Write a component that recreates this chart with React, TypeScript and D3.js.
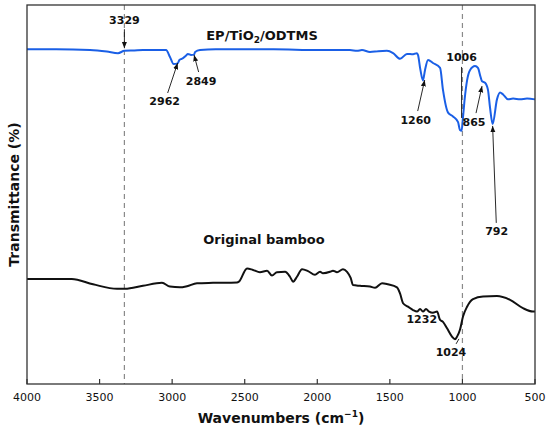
import * as d3 from 'd3';

// EP/TiO2/ODTMS spectrum (wavenumber, transmittance a.u.)
const coatedWn = [4000, 3800, 3566, 3450, 3373, 3329, 3260, 3201, 3100, 3042, 3015, 2990, 2962, 2950, 2935, 2925, 2905, 2891, 2870, 2849, 2842, 2808, 2700, 2500, 2300, 2000, 1775, 1726, 1692, 1637, 1580, 1520, 1478, 1430, 1382, 1340, 1313, 1306, 1290, 1272, 1258, 1237, 1203, 1154, 1134, 1099, 1065, 1030, 1017, 1006, 996, 985, 968, 948, 913, 893, 875, 865, 844, 824, 810, 792, 762, 741, 720, 686, 651, 603, 555, 500];
const coatedT = [88.3, 88.3, 88.1, 87.7, 87.3, 87.9, 88.0, 88.1, 88.1, 88.1, 86.3, 84.4, 84.6, 85.5, 85.8, 86.0, 86.6, 87.1, 86.8, 86.9, 87.6, 88.1, 88.3, 88.3, 88.3, 88.1, 88.1, 87.9, 88.1, 87.6, 87.8, 87.9, 87.3, 85.8, 87.1, 87.0, 87.3, 86.8, 83.0, 80.1, 82.8, 85.5, 84.7, 83.4, 77.6, 71.6, 70.6, 69.1, 67.0, 66.8, 70.4, 75.0, 80.1, 82.8, 83.9, 83.4, 81.0, 79.9, 79.5, 77.6, 73.0, 68.6, 75.1, 76.9, 76.4, 75.1, 75.3, 75.1, 75.3, 75.1];

// Original bamboo spectrum
const bambooWn = [4000, 3692, 3545, 3380, 3325, 3201, 3070, 3015, 2946, 2898, 2829, 2718, 2553, 2540, 2484, 2443, 2395, 2346, 2312, 2278, 2222, 2188, 2167, 2140, 2105, 2064, 2016, 1981, 1961, 1912, 1892, 1864, 1823, 1795, 1770, 1754, 1706, 1637, 1602, 1554, 1513, 1451, 1430, 1409, 1375, 1340, 1313, 1292, 1272, 1251, 1230, 1203, 1175, 1154, 1134, 1106, 1072, 1051, 1037, 1017, 996, 968, 927, 858, 762, 672, 583, 514, 500];
const bambooT = [27.7, 27.7, 26.3, 25.1, 25.1, 25.9, 26.7, 25.7, 25.5, 25.8, 26.6, 26.7, 26.8, 27.0, 30.5, 30.1, 29.5, 29.9, 28.6, 29.5, 29.6, 28.3, 27.0, 28.3, 30.3, 29.8, 28.8, 29.6, 29.2, 29.6, 29.9, 29.5, 30.3, 29.6, 28.0, 26.1, 25.9, 25.7, 25.4, 26.6, 26.3, 25.5, 23.9, 21.3, 20.4, 19.5, 19.1, 19.8, 19.1, 19.8, 19.1, 18.8, 19.1, 16.9, 16.4, 14.7, 12.5, 11.8, 12.5, 14.3, 17.8, 20.4, 22.4, 23.1, 23.2, 22.2, 20.0, 19.1, 19.1];

const xTicks = [4000, 3500, 3000, 2500, 2000, 1500, 1000, 500];
const refLines = [3329, 1000];

// peak labels: text, peak wavenumber, transmittance at arrow tip
const peakText = ['3329', '2962', '2849', '1260', '1006', '865', '792', '1232', '1024'];
const peakWn = [3329, 2962, 2849, 1260, 1006, 865, 792, 1232, 1024];
const peakT = [88.6, 84.7, 86.8, 80.2, 70.2, 78.6, 68.1, 19.3, 11.9];

// label placement relative to the tip (px) and pointer style
const labelLayout = [
  { dx: 0, dy: -28, kind: 'arrow' },
  { dx: -13, dy: 39, kind: 'arrow' },
  { dx: 7, dy: 26, kind: 'arrow' },
  { dx: -9, dy: 40, kind: 'arrow' },
  { dx: 0, dy: -60, kind: 'line' },
  { dx: -8, dy: 36, kind: 'arrow' },
  { dx: 4, dy: 106, kind: 'arrow' },
  { dx: -7, dy: 9, kind: 'none' },
  { dx: -8, dy: 14, kind: 'line' },
];

const W = 550;
const H = 437;
const margin = { top: 5, right: 15, bottom: 53, left: 27 };
const font = 'DejaVu Sans, Verdana, sans-serif';

export default function App() {
  const x = d3.scaleLinear().domain([4000, 500]).range([margin.left, W - margin.right]);
  const y = d3.scaleLinear().domain([0, 100]).range([H - margin.bottom, margin.top]);

  const line = d3
    .line<[number, number]>()
    .x((d) => x(d[0]))
    .y((d) => y(d[1]))
    .curve(d3.curveMonotoneX);

  const coated = coatedWn.map((w, i) => [w, coatedT[i]] as [number, number]);
  const bamboo = bambooWn.map((w, i) => [w, bambooT[i]] as [number, number]);

  const x0 = margin.left;
  const x1 = W - margin.right;
  const y0 = margin.top;
  const y1 = H - margin.bottom;

  return (
    <svg width={W} height={H} style={{ position: 'absolute', left: 0, top: 0, background: '#fff' }}>
      <defs>
        <marker id="head" viewBox="0 0 10 10" refX="10" refY="5" markerWidth="7" markerHeight="7" orient="auto">
          <path d="M0,1 L10,5 L0,9 Z" fill="#111" />
        </marker>
      </defs>

      {refLines.map((w) => (
        <line key={w} x1={x(w)} x2={x(w)} y1={y0} y2={y1} stroke="#8a8a8a" strokeWidth={1.2} strokeDasharray="5,4" />
      ))}

      <path d={line(bamboo) || ''} fill="none" stroke="#111" strokeWidth={2} />
      <path d={line(coated) || ''} fill="none" stroke="#1a5fe6" strokeWidth={2} />

      {peakText.map((t, i) => {
        const tx = x(peakWn[i]);
        const ty = y(peakT[i]);
        const { dx, dy, kind } = labelLayout[i];
        const lx = tx + dx;
        const ly = ty + dy;
        const k = 9 / Math.abs(dy);
        const sx = lx + (tx - lx) * k;
        const sy = ly + (ty - ly) * k;
        return (
          <g key={t}>
            {kind !== 'none' && (
              <line
                x1={sx}
                y1={sy}
                x2={tx}
                y2={ty}
                stroke="#111"
                strokeWidth={0.9}
                markerEnd={kind === 'arrow' ? 'url(#head)' : undefined}
              />
            )}
            <text x={lx} y={ly} textAnchor="middle" dominantBaseline="central" fontFamily={font} fontWeight="bold" fontSize={11} fill="#111">
              {t}
            </text>
          </g>
        );
      })}

      <text x={262} y={40} textAnchor="middle" fontFamily={font} fontWeight="bold" fontSize={13} fill="#111">
        EP/TiO<tspan fontSize={9} dy={3}>2</tspan>
        <tspan dy={-3}>/ODTMS</tspan>
      </text>
      <text x={264} y={244} textAnchor="middle" fontFamily={font} fontWeight="bold" fontSize={13} fill="#111">
        Original bamboo
      </text>

      <rect x={x0} y={y0} width={x1 - x0} height={y1 - y0} fill="none" stroke="#333" strokeWidth={1.3} />

      {xTicks.map((t) => (
        <g key={t}>
          <line x1={x(t)} x2={x(t)} y1={y1} y2={y1 - 5} stroke="#333" strokeWidth={1.2} />
          <text x={x(t)} y={y1 + 17} textAnchor="middle" fontFamily={font} fontSize={11} fill="#111">
            {t}
          </text>
        </g>
      ))}

      <text x={(x0 + x1) / 2} y={423} textAnchor="middle" fontFamily={font} fontWeight="bold" fontSize={14} fill="#111">
        Wavenumbers (cm<tspan fontSize={9} dy={-6}>−1</tspan>
        <tspan dy={6}>)</tspan>
      </text>
      <text
        transform={`translate(19,${(y0 + y1) / 2}) rotate(-90)`}
        textAnchor="middle"
        fontFamily={font}
        fontWeight="bold"
        fontSize={14}
        fill="#111"
      >
        Transmittance (%)
      </text>
    </svg>
  );
}
